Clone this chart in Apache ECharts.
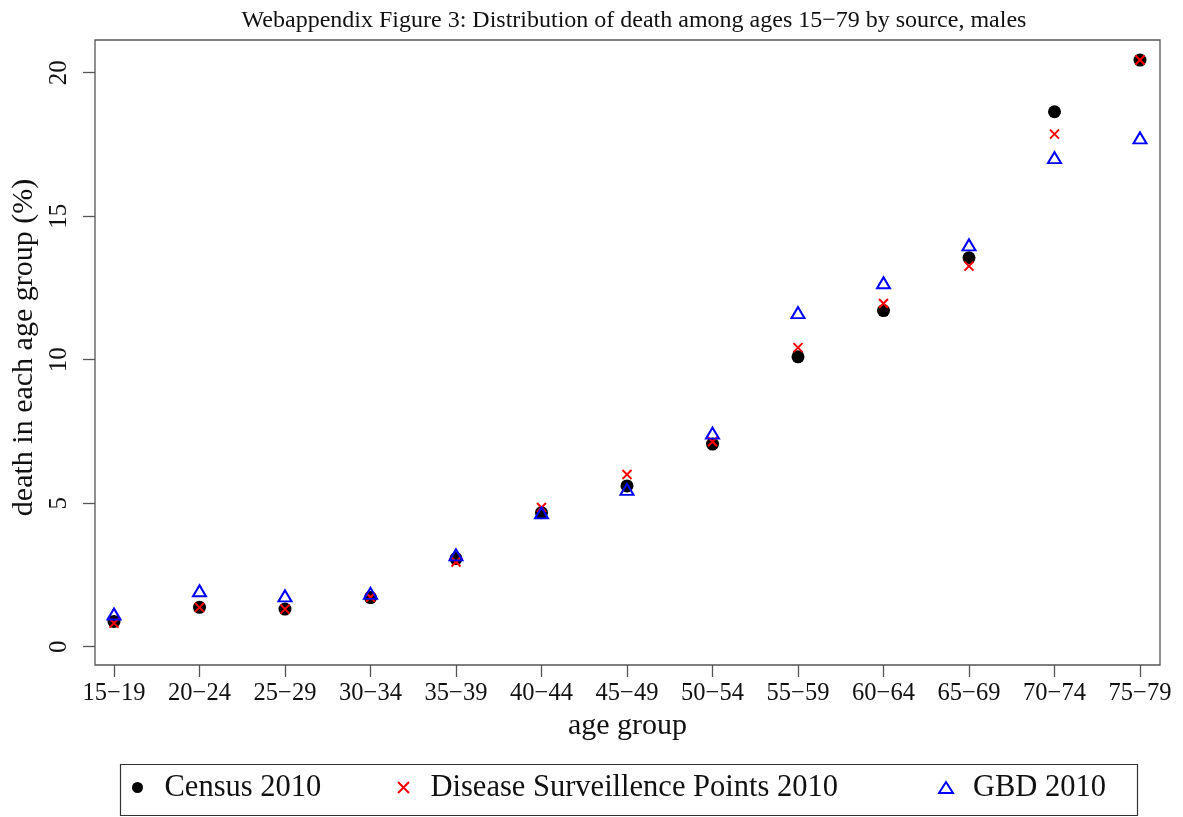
<!DOCTYPE html>
<html>
<head>
<meta charset="utf-8">
<title>Webappendix Figure 3</title>
<script src="https://cdn.jsdelivr.net/npm/echarts@6.0.0/dist/echarts.min.js"></script>
<style>
  html, body { margin: 0; padding: 0; background: #fff; }
  #main { width: 1183px; height: 817px; }
</style>
</head>
<body>
<div id="main"></div>
<script>
// age groups on the x axis
var ageGroups = ['15\u221219', '20\u221224', '25\u221229', '30\u221234', '35\u221239', '40\u221244', '45\u221249',
                 '50\u221254', '55\u221259', '60\u221264', '65\u221269', '70\u221274', '75\u221279'];
// % of deaths in each age group, by source
var census = [0.88, 1.37, 1.31, 1.71, 3.07, 4.67, 5.60, 7.06, 10.10, 11.71, 13.55, 18.64, 20.44];
var dsp    = [0.82, 1.37, 1.31, 1.72, 2.95, 4.85, 6.00, 7.14, 10.42, 11.96, 13.26, 17.86, 20.44];
var gbd    = [1.14, 1.95, 1.77, 1.86, 3.20, 4.66, 5.48, 7.44, 11.64, 12.68, 14.00, 17.04, 17.73];
var yTicks = [0, 5, 10, 15, 20];

var font = 'Liberation Serif, Times New Roman, serif';
var axisGrey = '#555';
var xIdx = ageGroups.map(function (g, i) { return i; });

function pairs(arr) {
    return arr.map(function (v, i) { return [i, v]; });
}

var chart = echarts.init(document.getElementById('main'));

// one legend per item, so each sits where R put it
function legendAt(name, left) {
    return {
        data: [name], left: left, top: 772, padding: 0,
        itemWidth: 14, itemHeight: 11, selectedMode: false,
        textStyle: { fontFamily: font, fontSize: 30.5, color: '#111', padding: [0, 0, 0, 15] }
    };
}

var option = {
    animation: false,
    backgroundColor: '#fff',
    title: {
        text: 'Webappendix Figure 3: Distribution of death among ages 15\u221279 by source, males',
        left: 629, top: 4, textAlign: 'center',
        textStyle: { fontFamily: font, fontSize: 24, fontWeight: 'normal', color: '#111' }
    },
    grid: {
        left: 95, right: 23, top: 40, bottom: 152,
        show: true, borderColor: axisGrey, borderWidth: 1.3, backgroundColor: 'transparent'
    },
    xAxis: {
        type: 'value', min: -0.2222, max: 12.234,
        axisLine: { show: false, onZero: false },
        axisTick: { show: true, length: 12, customValues: xIdx, lineStyle: { color: axisGrey, width: 1.3 } },
        splitLine: { show: false },
        axisLabel: {
            margin: 16, fontFamily: font, fontSize: 24.5, color: '#111', customValues: xIdx,
            formatter: function (v) { return ageGroups[Math.round(v)] || ''; }
        },
        name: 'age group', nameLocation: 'middle', nameGap: 44,
        nameTextStyle: { fontFamily: font, fontSize: 30, color: '#111' }
    },
    yAxis: {
        type: 'value', min: -0.638, max: 21.139,
        axisLine: { show: false, onZero: false },
        axisTick: { show: true, length: 12, customValues: yTicks, lineStyle: { color: axisGrey, width: 1.3 } },
        splitLine: { show: false },
        axisLabel: {
            margin: 23, rotate: 90, fontFamily: font, fontSize: 25, color: '#111', customValues: yTicks,
            formatter: function (v) { return String(Math.round(v)); }
        },
        name: 'death in each age group (%)', nameLocation: 'middle', nameGap: 52, nameRotate: 90,
        nameTextStyle: { fontFamily: font, fontSize: 30, color: '#111', padding: [0, 0, 0, 10] }
    },
    legend: [
        legendAt('Census 2010', 132),
        legendAt('Disease Surveillence Points 2010', 397),
        legendAt('GBD 2010', 938)
    ],
    graphic: [
        {
            type: 'rect', left: 118, top: 762, z: 100,
            shape: { width: 1017, height: 51 },
            style: { fill: 'none', stroke: '#333', lineWidth: 1.2 }
        }
    ],
    series: [
        {
            name: 'Census 2010', type: 'scatter',
            symbol: 'circle', symbolSize: 13,
            itemStyle: { color: '#000', opacity: 1 },
            data: pairs(census)
        },
        {
            name: 'Disease Surveillence Points 2010', type: 'scatter',
            symbol: 'path://M0,0L10,10M10,0L0,10', symbolSize: 9,
            itemStyle: { color: 'rgba(0,0,0,0)', borderColor: '#ff0000', borderWidth: 2, opacity: 1 },
            data: pairs(dsp)
        },
        {
            name: 'GBD 2010', type: 'scatter',
            symbol: 'triangle', symbolSize: [13, 11],
            itemStyle: { color: 'rgba(0,0,0,0)', borderColor: '#0000ff', borderWidth: 2, opacity: 1 },
            data: pairs(gbd)
        }
    ]
};

chart.setOption(option);
</script>
</body>
</html>
